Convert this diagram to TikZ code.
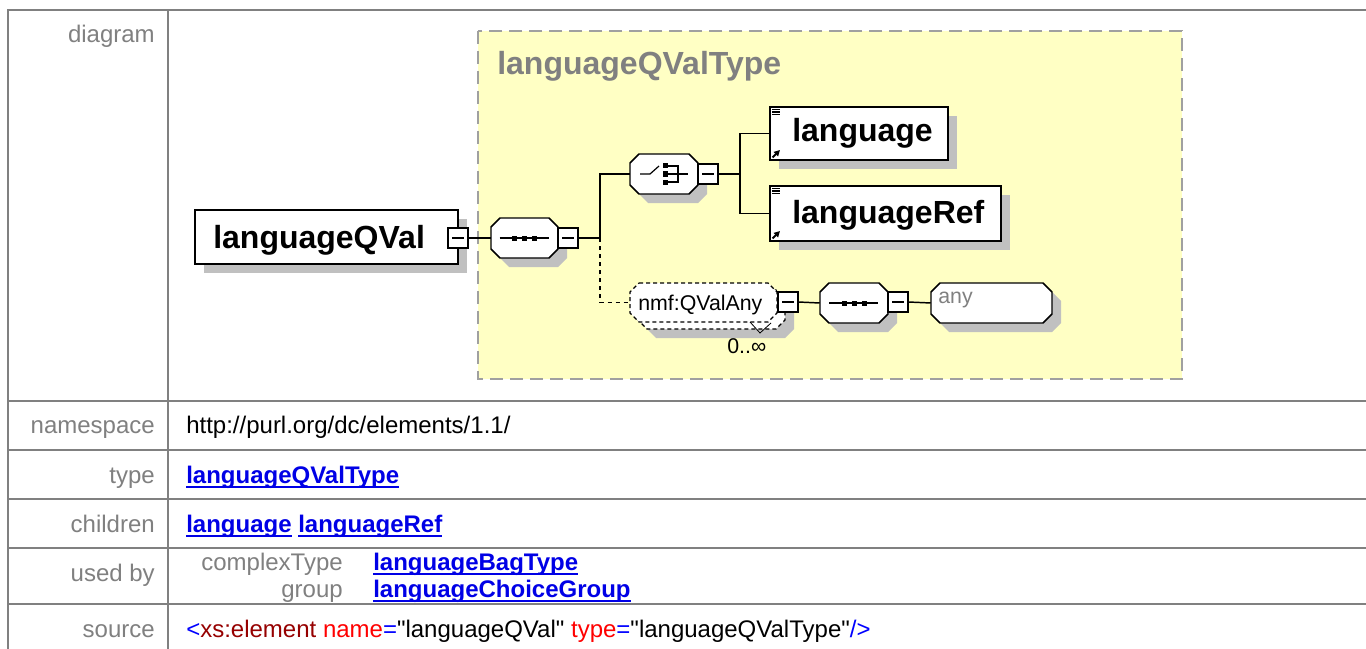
\documentclass[tikz,border=0pt]{standalone}
\usepackage{fontspec}
\setmainfont{Liberation Sans}
\newfontfamily\plainsans{Liberation Sans}
\usetikzlibrary{shadows,arrows.meta}

\definecolor{rulegray}{RGB}{128,128,128}
\definecolor{paneyellow}{RGB}{255,255,196}
\definecolor{panedash}{RGB}{160,160,160}
\definecolor{shadowgray}{RGB}{192,192,192}
\definecolor{linkblue}{RGB}{0,0,230}
\definecolor{tagred}{RGB}{150,0,0}
\definecolor{attrred}{RGB}{255,0,0}
\definecolor{markblue}{RGB}{0,0,255}

% bold blue underlined hyperlink text
\newcommand\lnk[1]{{\color{linkblue}\bfseries\setbox0=\hbox{#1}\rlap{\copy0}\rule[-4pt]{\wd0}{1.4pt}}}

% octagonal outline of a compositor box, corners cut by 9 units
\newcommand\octshape[4]{(#1+9,#2) -- (#3-9,#2) -- (#3,#2+9) -- (#3,#4-9) -- (#3-9,#4) -- (#1+9,#4) -- (#1,#4-9) -- (#1,#2+9) -- cycle}

% compositor: shadow, outline and a named node covering it
\newcommand\compositor[6]{%
  \fill[shadowgray, shift={(9,9)}] \octshape{#2}{#3}{#4}{#5};
  \draw[#6] \octshape{#2}{#3}{#4}{#5};
  \node[inner sep=0pt, minimum width={(#4-#2)*0.75pt}, minimum height={(#5-#3)*0.75pt}] (#1) at ({(#2+#4)/2},{(#3+#5)/2}) {};
}

\tikzset{
  sz/.style 2 args={minimum width={#1*0.75pt}, minimum height={#2*0.75pt}},
  grid/.style={draw=rulegray, line width=1.5pt},
  pane/.style={fill=paneyellow, draw=panedash, line width=1.2pt, dash pattern=on 10pt off 5pt},
  cell/.style={font=\fontsize{18}{21}\selectfont, inner sep=0pt},
  rowlabel/.style={cell, text=rulegray, anchor=base east},
  rowtext/.style={cell, anchor=base west},
  title/.style={font=\fontsize{24}{28}\selectfont\bfseries, text=rulegray, anchor=base west, inner sep=0pt},
  shadowed/.style={drop shadow={shadow xshift=6.75pt, shadow yshift=-6.75pt, fill=shadowgray, opacity=1}},
  elembox/.style={draw=black, line width=1.5pt, fill=white, inner sep=0pt, shadowed},
  elemname/.style={font=\fontsize{24}{28}\selectfont\bfseries, anchor=base west, inner sep=0pt},
  smalltext/.style={font=\fontsize{16}{19}\selectfont, anchor=base west, inner sep=0pt},
  octline/.style={draw=black, fill=white, line width=1.1pt},
  optline/.style={draw=black, fill=white, line width=0.9pt, dash pattern=on 3pt off 2.25pt},
  minusbox/.style={draw=black, line width=0.8pt, fill=white, inner sep=0pt, minimum size=15pt,
    path picture={\draw[line width=0.8pt] ([xshift=3pt]path picture bounding box.west) -- ([xshift=-3pt]path picture bounding box.east);}},
  wire/.style={line width=1.1pt},
  optwire/.style={wire, dash pattern=on 3pt off 3pt},
  pics/seqmark/.style={code={
    \draw[line width=0.9pt] (-25,0) -- (24,0);
    \foreach \dx in {-10,0,10} \fill (\dx-2.5,-2.5) rectangle (\dx+2.5,2.5);
  }},
  pics/choicemark/.style={code={
    \draw[line width=0.9pt] (-24,0) -- (-14,0) -- (-5,-8);
    \foreach \dy in {-8,0,8} \fill (-1.5,\dy-2.5) rectangle (3.5,\dy+2.5);
    \draw[line width=0.9pt] (3.5,-8) -- (14,-8) -- (14,8) -- (3.5,8) (3.5,0) -- (24,0);
  }},
  pics/docmark/.style={code={
    \draw[line width=0.9pt] (3,3.5) -- (11,3.5) (3,6) -- (11,6) (3,8.5) -- (11,8.5);
  }},
  pics/refmark/.style={code={
    \draw[line width=1.4pt, -{Triangle[length=4.5pt,width=4.5pt]}] (3.5,-3.5) -- (11,-11);
  }},
}

\begin{document}
\begin{tikzpicture}[x=0.75pt,y=-0.75pt]
\useasboundingbox (0,0) rectangle (1366,649);
\fill[white] (0,0) rectangle (1366,649);

% table rules
\draw[grid] (8,649) -- (8,10) -- (1366,10);
\draw[grid] (168,10) -- (168,649);
\foreach \y in {401,450,499,548,604} \draw[grid] (8,\y) -- (1366,\y);

% complex type pane
\draw[pane] (478,31) rectangle (1182,379);
\node[title] (typetitle) at (497,75) {languageQValType};

% root element
\node[elembox, sz={263}{54}] (root) at (326.5,237) {};
\node[elemname] (rootname) at (213,248) {languageQVal};
\node[minusbox] (m0) at (458,238) {};

% outer sequence
\compositor{seq1}{491}{218}{558}{258}{octline}
\pic at (seq1.center) {seqmark};
\node[minusbox] (m1) at (568,238) {};

% choice
\compositor{choice}{630}{154}{698}{194}{octline}
\pic at (choice.center) {choicemark};
\node[minusbox] (m2) at (708,174) {};

% child elements
\node[elembox, sz={178}{53}] (language) at (859,133.5) {};
\node[elemname] (languagename) at (792,142) {language};
\pic at (language.north west) {docmark};
\pic at (language.south west) {refmark};

\node[elembox, sz={231}{55}] (languageRef) at (885.5,213.5) {};
\node[elemname] (languageRefname) at (792,223) {languageRef};
\pic at (languageRef.north west) {docmark};
\pic at (languageRef.south west) {refmark};

% repeated optional group reference (stacked frames)
\compositor{nmfback}{638}{290}{785}{329}{optline}
\draw[optline] \octshape{630}{283}{777}{322};
\node[inner sep=0pt, sz={147}{39}] (nmf) at (703.5,302.5) {};
\node[smalltext] (nmfname) at (638,310) {nmf:QValAny};
\draw[line width=0.6pt] (750,322) -- (760,333) -- (771,323);
\node[smalltext] (mult) at (727,353) {0..∞};
\node[minusbox] (m3) at (788,302) {};

% inner sequence with wildcard
\compositor{seq2}{820}{283}{888}{323}{octline}
\pic at (seq2.center) {seqmark};
\node[minusbox] (m4) at (898,302) {};
\compositor{anyel}{931}{283}{1052}{323}{octline}
\node[smalltext, text=rulegray] (anyname) at (938,303) {any};

% connectors
\coordinate (j1) at (600,238);
\coordinate (j2) at (740,174);
\draw[wire] (m0.east) -- (seq1.west);
\draw[wire] (m1.east) -- (j1) |- (choice.west);
\draw[optwire] (j1) |- (nmf.west);
\draw[wire] (m2.east) -- (j2);
\draw[wire] (j2) |- (language.west);
\draw[wire] (j2) |- (languageRef.west);
\draw[wire] (m3.east) -- (seq2.west);
\draw[wire] (m4.east) -- (anyel.west);

% table text
\node[rowlabel] (lbldiagram) at (155,43) {diagram};
\node[rowlabel] (lblns) at (155,433) {namespace};
\node[rowtext] (ns) at (186,433) {http://purl.org/dc/elements/1.1/};
\node[rowlabel] (lbltype) at (155,483) {type};
\node[rowtext] (typelink) at (186,483) {\lnk{languageQValType}};
\node[rowlabel] (lblchildren) at (155,532) {children};
\node[rowtext] (childlinks) at (186,532) {\lnk{language} \lnk{languageRef}};
\node[rowlabel] (lblusedby) at (155,581) {used by};
\node[rowlabel] (ctkind) at (343,570) {complexType};
\node[rowlabel] (grkind) at (343,597) {group};
\node[rowtext] (ctlink) at (373,570) {\lnk{languageBagType}};
\node[rowtext] (grlink) at (373,597) {\lnk{languageChoiceGroup}};
\node[rowlabel] (lblsource) at (155,637) {source};
\node[rowtext] (src) at (186,637) {\plainsans{\color{markblue}<}{\color{tagred}xs:element} {\color{attrred}name}{\color{markblue}=}"languageQVal" {\color{attrred}type}{\color{markblue}=}"languageQValType"{\color{markblue}/>}};
\end{tikzpicture}
\end{document}
